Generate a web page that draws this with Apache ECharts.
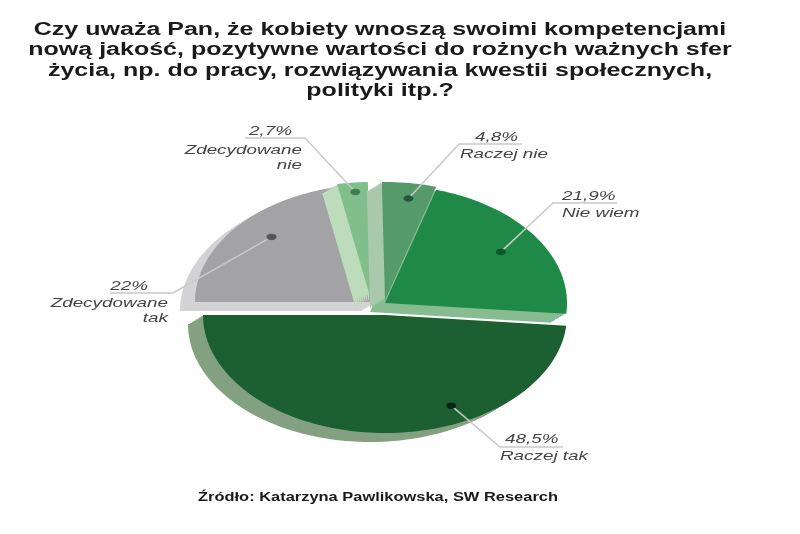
<!DOCTYPE html>
<html>
<head>
<meta charset="utf-8">
<script src="https://cdn.jsdelivr.net/npm/echarts@6/dist/echarts.min.js"></script>
<style>
html, body { margin: 0; background: #fff; }
#main { width: 800px; height: 534px; }
</style>
</head>
<body>
<div id="main"></div>
<script>
// dane z wykresu
var categories = ['Zdecydowane tak', 'Zdecydowane nie', 'Raczej nie', 'Nie wiem', 'Raczej tak'];
var values = [22, 2.7, 4.8, 21.9, 48.5];
var valueLabels = ['22%', '2,7%', '4,8%', '21,9%', '48,5%'];
var nameLines = [['Zdecydowane', 'tak'], ['Zdecydowane', 'nie'], ['Raczej nie'], ['Nie wiem'], ['Raczej tak']];
var titleLines = [
    'Czy uważa Pan, że kobiety wnoszą swoimi kompetencjami',
    'nową jakość, pozytywne wartości do rożnych ważnych sfer',
    'życia, np. do pracy, rozwiązywania kwestii społecznych,',
    'polityki itp.?'
];
var sourceText = 'Źródło: Katarzyna Pawlikowska, SW Research';

// wygląd
var faceColors = ['#a3a3a5', '#80bf8c', '#559a6b', '#1f8a47', '#1c5f30'];
var sideColors = ['#d3d3d5', '#bcdcbc', '#aac8ab', '#86bc90', '#83a180'];
var dotColors = ['#555555', '#3f7d50', '#25583a', '#0d5628', '#0a2814'];
// kolejność rysowania (indeksy kategorii) i odsunięcie wycinków
var drawOrder = [0, 3, 1, 2, 4];
var explodeOffsets = [[-8, -6], [-14, -8], [0, -8], [0, -5], [0, 7]];

var CX = 385, CY = 308, RX = 182, RY = 118, START = 180;
var SIDE_DX = -15, SIDE_DY = 9;

// położenie kropki (t: część kąta, f: część promienia) i etykiety
var labelLayout = [
    {t: 0.55, f: 0.80, elbow: [173, 293], lineEnd: 110, align: 'right', valuePos: [148, 286], namePos: [168, 303]},
    {t: 0.55, f: 0.92, elbow: [305, 138], lineEnd: 245, align: 'right', valuePos: [292, 131], namePos: [302, 150]},
    {t: 0.55, f: 0.87, elbow: [459, 144], lineEnd: 522, align: 'left', valuePos: [475, 137], namePos: [460, 154]},
    {t: 0.50, f: 0.77, elbow: [553, 203], lineEnd: 617, align: 'left', valuePos: [562, 196], namePos: [562, 213]},
    {t: 0.34, f: 0.85, elbow: [500, 447], lineEnd: 563, align: 'left', valuePos: [505, 439], namePos: [500, 456]}
];

var total = values.reduce(function (a, b) { return a + b; }, 0);
var startAngles = [];
var acc = START;
for (var i = 0; i < values.length; i++) {
    startAngles.push(acc);
    acc += values[i] / total * 360;
}

function sectorPoints(ox, oy, a0, a1) {
    var pts = [[ox, oy]];
    var n = Math.max(3, Math.ceil((a1 - a0) / 1.5));
    for (var k = 0; k <= n; k++) {
        var a = (a0 + (a1 - a0) * k / n) * Math.PI / 180;
        pts.push([ox + RX * Math.cos(a), oy + RY * Math.sin(a)]);
    }
    return pts;
}

function labelText(text, x, y, align) {
    return {
        type: 'text', x: x, y: y, scaleX: 1.45, z2: 200,
        style: {
            text: text, x: 0, y: 0, align: align, verticalAlign: 'middle',
            fill: '#444444', fontSize: 13, fontStyle: 'italic',
            fontFamily: 'Liberation Sans, Arial, sans-serif'
        }
    };
}

function renderSlice(params, api) {
    var idx = params.dataIndex;
    var a0 = startAngles[idx];
    var a1 = a0 + api.value(0) / total * 360;
    var ox = CX + explodeOffsets[idx][0];
    var oy = CY + explodeOffsets[idx][1];
    var base = drawOrder.indexOf(idx) * 10;
    var children = [];

    // boczna ścianka
    var steps = 8;
    for (var s = 1; s <= steps; s++) {
        children.push({
            type: 'polygon', z2: base + 1,
            shape: {points: sectorPoints(ox + SIDE_DX * s / steps, oy + SIDE_DY * s / steps, a0, a1)},
            style: {fill: sideColors[idx]}
        });
    }
    // wierzch
    children.push({
        type: 'polygon', z2: base + 2,
        shape: {points: sectorPoints(ox, oy, a0, a1)},
        style: {fill: faceColors[idx]}
    });

    var lay = labelLayout[idx];
    var da = (a0 + (a1 - a0) * lay.t) * Math.PI / 180;
    var dx = ox + RX * lay.f * Math.cos(da);
    var dy = oy + RY * lay.f * Math.sin(da);
    children.push({
        type: 'circle', x: dx, y: dy, scaleY: 0.65, z2: 150,
        shape: {cx: 0, cy: 0, r: 5},
        style: {fill: dotColors[idx]}
    });
    children.push({
        type: 'polyline', z2: 149,
        shape: {points: [[dx, dy], lay.elbow, [lay.lineEnd, lay.elbow[1]]]},
        style: {stroke: '#c9c9c9', lineWidth: 1.5, fill: null}
    });
    children.push(labelText(valueLabels[idx], lay.valuePos[0], lay.valuePos[1], lay.align));
    nameLines[idx].forEach(function (line, j) {
        children.push(labelText(line, lay.namePos[0], lay.namePos[1] + j * 15, lay.align));
    });
    return {type: 'group', children: children};
}

var graphics = titleLines.map(function (line, i) {
    return {
        type: 'text', x: 380, y: 30 + i * 20.5, scaleX: 1.39,
        style: {
            text: line, x: 0, y: 0, align: 'center', verticalAlign: 'middle',
            fill: '#1a1a1a', fontSize: 18, fontWeight: 'bold',
            fontFamily: 'Liberation Sans, Arial, sans-serif'
        }
    };
});
graphics.push({
    type: 'text', x: 198, y: 498, scaleX: 1.37,
    style: {
        text: sourceText, x: 0, y: 0, align: 'left', verticalAlign: 'middle',
        fill: '#1a1a1a', fontSize: 12, fontWeight: 'bold',
        fontFamily: 'Liberation Sans, Arial, sans-serif'
    }
});

var myChart = echarts.init(document.getElementById('main'));
myChart.setOption({
    backgroundColor: '#ffffff',
    animation: false,
    graphic: graphics,
    series: [{
        type: 'custom',
        coordinateSystem: 'none',
        renderItem: renderSlice,
        data: values.map(function (v, i) { return {name: categories[i], value: v}; })
    }]
});
</script>
</body>
</html>
